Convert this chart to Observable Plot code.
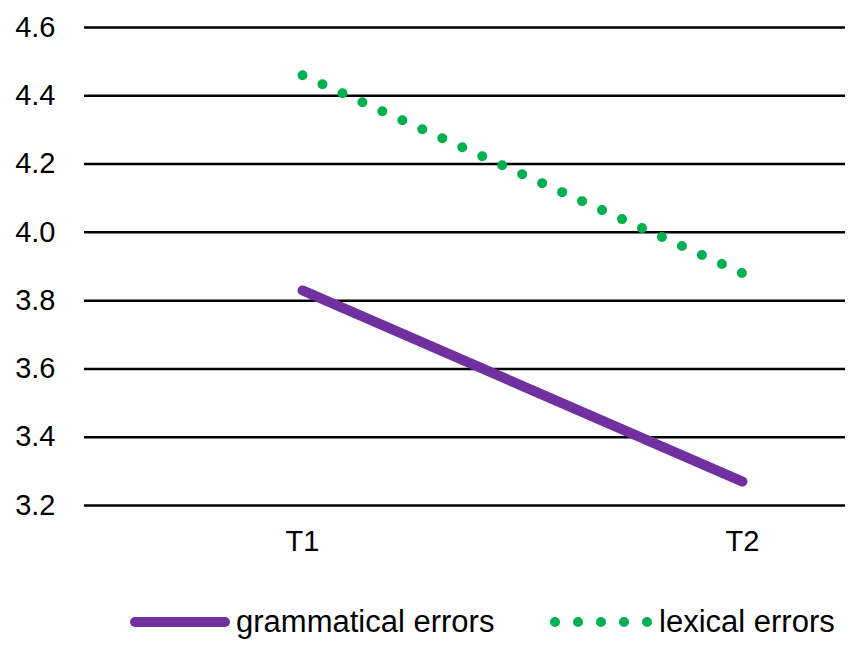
<!DOCTYPE html>
<html>
<head>
<meta charset="utf-8">
<script src="https://cdn.jsdelivr.net/npm/d3@7"></script>
<script src="https://cdn.jsdelivr.net/npm/@observablehq/plot@0.6"></script>
<style>
  html, body { margin: 0; padding: 0; background: #fff; }
  #wrap { position: relative; width: 851px; height: 651px; font-family: "Liberation Sans", Arial, sans-serif; }
  .leg { position: absolute; top: 604px; display: flex; align-items: center; font-size: 31px; color: #000; white-space: nowrap; }
  .leg svg { display: block; }
</style>
</head>
<body>
<div id="wrap">
  <div id="chart"></div>
  <div class="leg" style="left:125px"><svg width="110" height="14"><line x1="10" y1="7" x2="100" y2="7" stroke="#7030A0" stroke-width="10" stroke-linecap="round"/></svg><span style="margin-left:1px">grammatical errors</span></div>
  <div class="leg" style="left:545px"><svg width="112" height="14"><line x1="10" y1="7" x2="104" y2="7" stroke="#00B050" stroke-width="10" stroke-linecap="round" stroke-dasharray="0,23"/></svg><span style="margin-left:2px">lexical errors</span></div>
</div>
<script>
const periods = ["T1", "T2"];
const grammatical = [3.83, 3.27];
const lexical = [4.46, 3.88];
const yTicks = [3.2, 3.4, 3.6, 3.8, 4.0, 4.2, 4.4, 4.6];

const gData = periods.map((p, i) => ({period: p, value: grammatical[i]}));
const lData = periods.map((p, i) => ({period: p, value: lexical[i]}));

const chart = Plot.plot({
  width: 851,
  height: 585,
  marginLeft: 84,
  marginRight: 6,
  marginTop: 27,
  marginBottom: 80,
  style: {fontFamily: "Liberation Sans, Arial, sans-serif", fontSize: "29px", color: "#000", background: "#fff"},
  x: {type: "point", domain: periods, range: [302, 742], padding: 0, label: null},
  y: {domain: [3.2, 4.6], label: null},
  marks: [
    Plot.ruleY(yTicks, {stroke: "#000", strokeWidth: 2.5}),
    Plot.axisY({ticks: yTicks, tickSize: 0, tickPadding: 29, tickFormat: d => d.toFixed(1), fontSize: 29, label: null}),
    Plot.axisX({tickSize: 0, tickPadding: 25, fontSize: 29, label: null}),
    Plot.line(gData, {x: "period", y: "value", stroke: "#7030A0", strokeWidth: 10, strokeLinecap: "round"}),
    Plot.line(lData, {x: "period", y: "value", stroke: "#00B050", strokeWidth: 10, strokeLinecap: "round", strokeDasharray: "0,21.9"})
  ]
});
document.getElementById("chart").appendChild(chart);
</script>
</body>
</html>
